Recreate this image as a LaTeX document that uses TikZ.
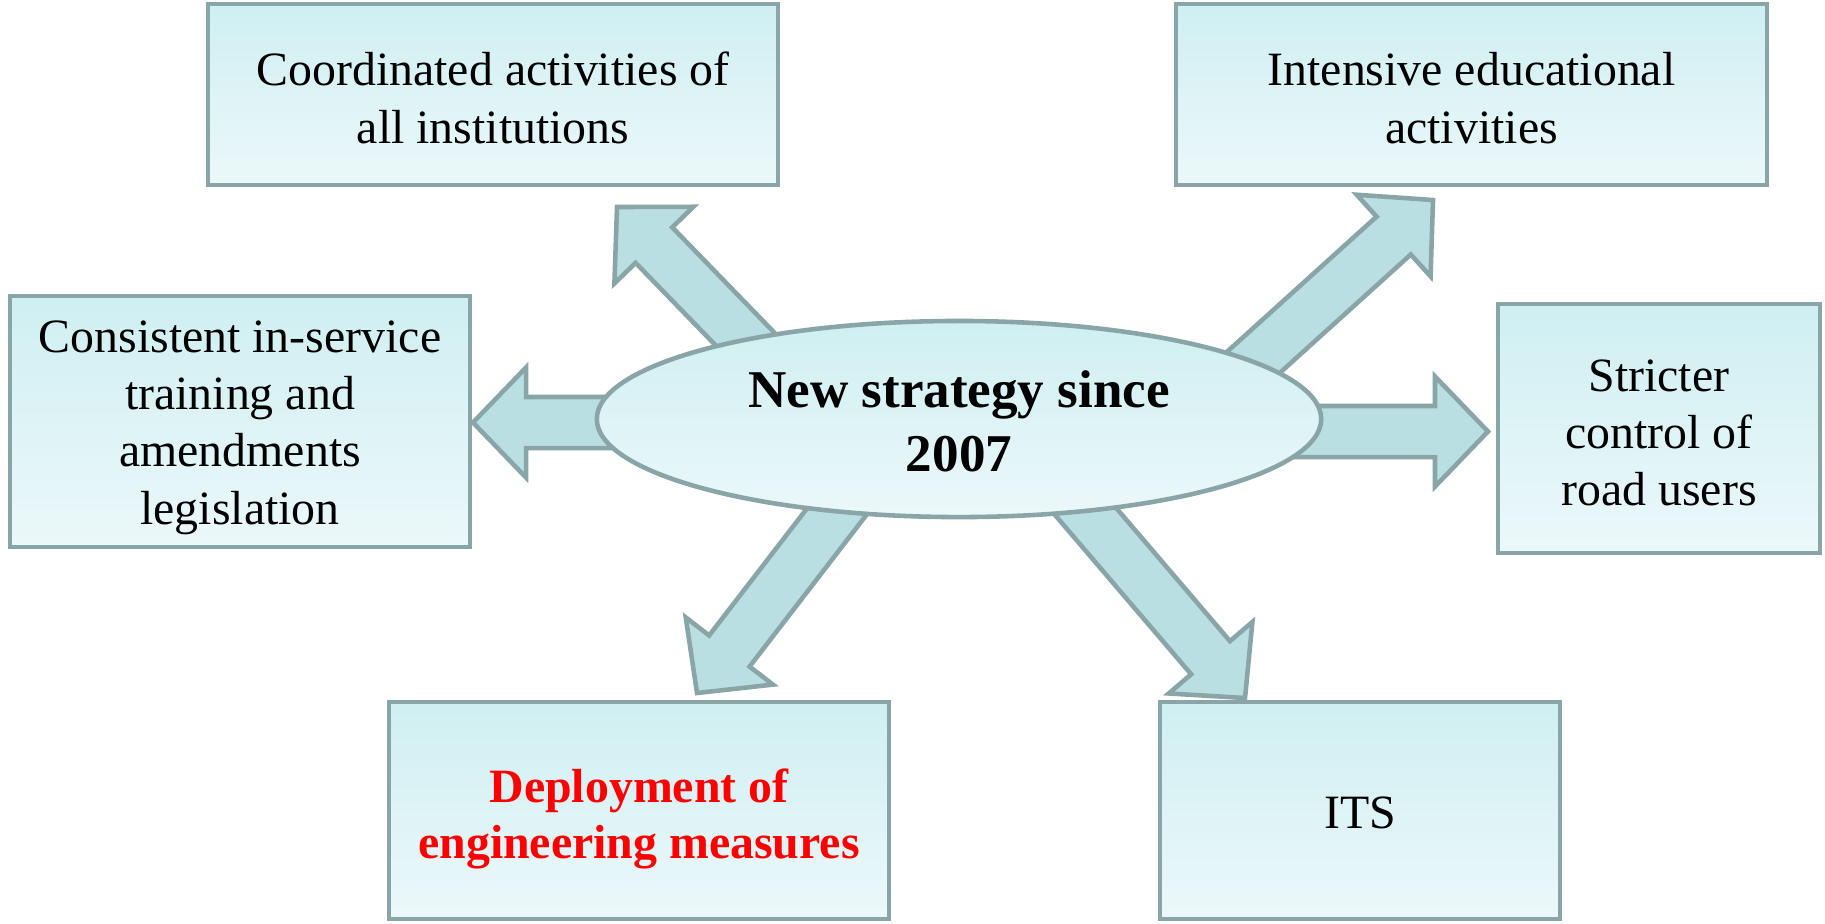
\documentclass[tikz,border=0pt]{standalone}
\usepackage{fontspec}
\setmainfont{Liberation Serif}
\usetikzlibrary{shapes.geometric,calc}
\definecolor{bordc}{RGB}{138,165,167}
\definecolor{arrfill}{RGB}{185,223,226}
\definecolor{boxtop}{RGB}{207,239,242}
\definecolor{boxbot}{RGB}{236,248,250}
\newcommand\mysw{0.255cm}
\newcommand\myhw{0.55cm}
\newcommand\myhl{0.53cm}
\newcommand\myblockarrow[2]{%
  \coordinate (ba-c) at ($(#2)!\myhl!(#1)$);
  \draw[blockarr] ($(#1)!\mysw!90:(#2)$) -- ($(ba-c)!\mysw!90:(#2)$) -- ($(ba-c)!\myhw!90:(#2)$) -- (#2)
    -- ($(ba-c)!\myhw!-90:(#2)$) -- ($(ba-c)!\mysw!-90:(#2)$) -- ($(#1)!\mysw!-90:(#2)$) -- cycle;}
\begin{document}
\begin{tikzpicture}[x=0.01cm,y=-0.01cm,
  box/.style={draw=bordc, line width=1.3pt, top color=boxtop, bottom color=boxbot, inner sep=0pt},
  boxtext/.style={align=center, inner sep=0pt, font=\fontsize{13.6}{16.3}\selectfont},
  blockarr/.style={draw=bordc, fill=arrfill, line width=1.3pt, line join=miter},
  centre/.style={ellipse, draw=bordc, line width=1.3pt, top color=boxtop, bottom color=boxbot, inner sep=0pt},
  centretext/.style={align=center, inner sep=0pt, font=\fontsize{15.1}{18.2}\selectfont\bfseries}]
\useasboundingbox (0,0) rectangle (1825,923);
% boxes
\node[box, minimum width=5.70cm, minimum height=1.81cm] (b1) at (493,94.5) {};
\node[box, minimum width=5.91cm, minimum height=1.81cm] (b2) at (1471.5,94.5) {};
\node[box, minimum width=4.60cm, minimum height=2.51cm] (b3) at (240,421.5) {};
\node[box, minimum width=3.22cm, minimum height=2.49cm] (b4) at (1659,428.5) {};
\node[box, minimum width=5.00cm, minimum height=2.17cm] (b5) at (639,810.5) {};
\node[box, minimum width=4.00cm, minimum height=2.17cm] (b6) at (1360,810.5) {};
\node[boxtext] (t1) at ([yshift=-0.035cm]b1.center) {Coordinated activities of\\all institutions};
\node[boxtext] (t2) at ([yshift=-0.035cm]b2.center) {Intensive educational\\activities};
\node[boxtext] (t3) at ([yshift=-0.06cm]b3.center) {Consistent in-service\\training and\\amendments\\legislation};
\node[boxtext] (t4) at ([yshift=-0.045cm]b4.center) {Stricter\\control of\\road users};
\node[boxtext, text=red, font=\fontsize{13.6}{15.9}\selectfont\bfseries] (t5) at ([yshift=-0.08cm]b5.center) {Deployment of\\engineering measures};
\node[boxtext] (t6) at ([yshift=-0.025cm]b6.center) {ITS};
% arrow ends
\coordinate (tUL) at (617,207);   \coordinate (sUL) at (777,372);
\coordinate (tUR) at (1433,200);  \coordinate (sUR) at (1225,388);
\coordinate (tL)  at (473,422.5); \coordinate (sL)  at (650,422.5);
\coordinate (tR)  at (1488,431.5);\coordinate (sR)  at (1270,431.5);
\coordinate (tDL) at (697,693);   \coordinate (sDL) at (868,471);
\coordinate (tDR) at (1245,698);  \coordinate (sDR) at (1063,485);
\myblockarrow{sUL}{tUL}
\myblockarrow{sUR}{tUR}
\myblockarrow{sL}{tL}
\myblockarrow{sR}{tR}
\myblockarrow{sDL}{tDL}
\myblockarrow{sDR}{tDR}
% centre
\node[centre, minimum width=7.24cm, minimum height=1.96cm] (c) at (959,419) {};
\node[centretext] (ct) at ([yshift=-0.02cm]c.center) {New strategy since\\2007};
\end{tikzpicture}
\end{document}
